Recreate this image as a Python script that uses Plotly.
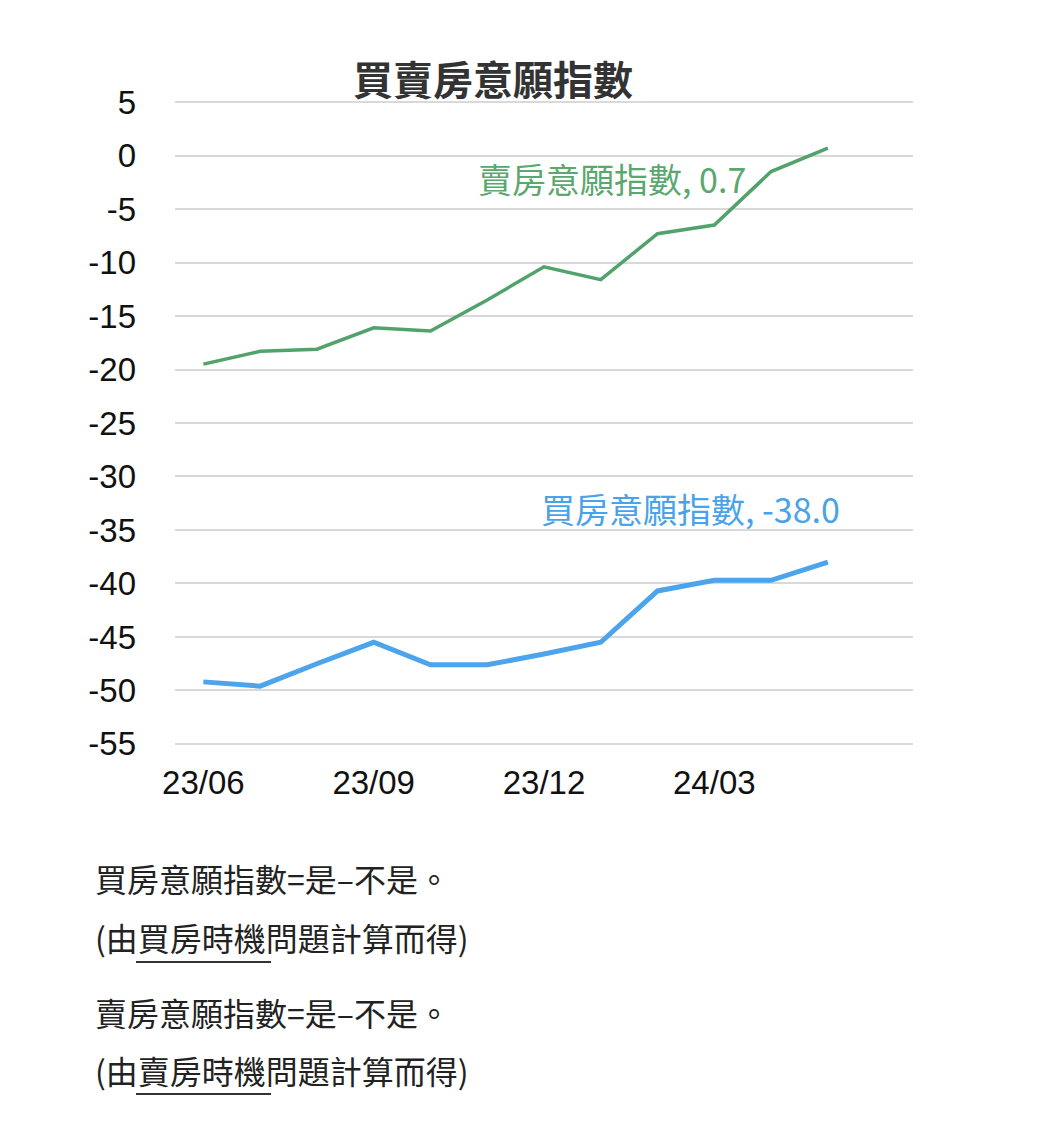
import plotly.graph_objects as go

months = ["23/06", "23/07", "23/08", "23/09", "23/10", "23/11",
          "23/12", "24/01", "24/02", "24/03", "24/04", "24/05"]
axis_months = months + ["24/06"]
tick_months = ["23/06", "23/09", "23/12", "24/03"]
y_ticks = [5, 0, -5, -10, -15, -20, -25, -30, -35, -40, -45, -50, -55]

sell_index = [-19.5, -18.3, -18.1, -16.1, -16.4, -13.5, -10.4, -11.6, -7.3, -6.5, -1.5, 0.7]
buy_index = [-49.2, -49.6, -47.5, -45.5, -47.6, -47.6, -46.6, -45.5, -40.7, -39.7, -39.7, -38.0]

sell_name = "賣房意願指數"
buy_name = "買房意願指數"
title_text = "買賣房意願指數"
notes = ["買房意願指數=是–不是。", "(由買房時機問題計算而得)",
         "賣房意願指數=是–不是。", "(由賣房時機問題計算而得)"]

OFF = 8  # page body margin
W, H = 1048 - OFF, 1142 - OFF
# plot area in reference-page pixels (range padded by 0.1 unit each side)
L, R, T, B = 175, 913, 101, 745

def px(x):
    return (x - L) / (R - L)

def py(y):
    return (B - y) / (B - T)

CJK = "Noto Sans CJK TC, Noto Sans CJK SC, sans-serif"
LAT = "Liberation Sans, Arial, sans-serif"

fig = go.Figure()
fig.add_trace(go.Scatter(x=months, y=sell_index, mode="lines", name=sell_name,
                         line=dict(color="#52a26b", width=3.5)))
fig.add_trace(go.Scatter(x=months, y=buy_index, mode="lines", name=buy_name,
                         line=dict(color="#4ca4ec", width=5)))

annotations = [
    dict(text=f"{sell_name}, {sell_index[-1]:.1f}", xref="paper", yref="paper",
         x=px(748), y=py(178), xanchor="right", yanchor="middle", showarrow=False,
         font=dict(family=CJK, size=34, color="#5aa86e")),
    dict(text=f"{buy_name}, {buy_index[-1]:.1f}", xref="paper", yref="paper",
         x=px(842), y=py(508), xanchor="right", yanchor="middle", showarrow=False,
         font=dict(family=CJK, size=34, color="#4aa3e8")),
]
note_y = [878, 937, 1012, 1070]
for t, yy in zip(notes, note_y):
    annotations.append(dict(text=t, xref="paper", yref="paper", x=px(93), y=py(yy),
                            xanchor="left", yanchor="middle", showarrow=False,
                            font=dict(family=CJK, size=32, color="#222222")))

shapes = []
for yy in [962, 1094]:
    shapes.append(dict(type="line", xref="paper", yref="paper",
                       x0=px(136), x1=px(271), y0=py(yy), y1=py(yy),
                       line=dict(color="#333333", width=2)))

fig.update_layout(
    width=W, height=H,
    margin=dict(l=L - OFF, r=W - (R - OFF), t=T - OFF, b=H - (B - OFF)),
    paper_bgcolor="white", plot_bgcolor="white",
    showlegend=False,
    title=dict(text=f"<b>{title_text}</b>", x=(493 - OFF) / W, xanchor="center",
               xref="container", yref="container", y=1 - (81 - OFF) / H, yanchor="middle",
               font=dict(family=CJK, size=40, color="#333333")),
    xaxis=dict(type="category", categoryorder="array", categoryarray=axis_months,
               range=[-0.5, 12.5], tickmode="array", tickvals=tick_months,
               ticktext=tick_months, showgrid=False, zeroline=False, showline=False,
               ticks="", ticklabelstandoff=15,
               tickfont=dict(family=LAT, size=33, color="#111111")),
    yaxis=dict(range=[-55.1, 5.1], tickmode="array", tickvals=y_ticks,
               ticktext=[str(v) for v in y_ticks],
               showgrid=True, gridcolor="#d9d9d9", gridwidth=2, zeroline=False,
               showline=False, ticks="", ticklabelstandoff=38,
               tickfont=dict(family=LAT, size=33, color="#111111")),
    annotations=annotations, shapes=shapes,
)

fig.write_html("out.html")
